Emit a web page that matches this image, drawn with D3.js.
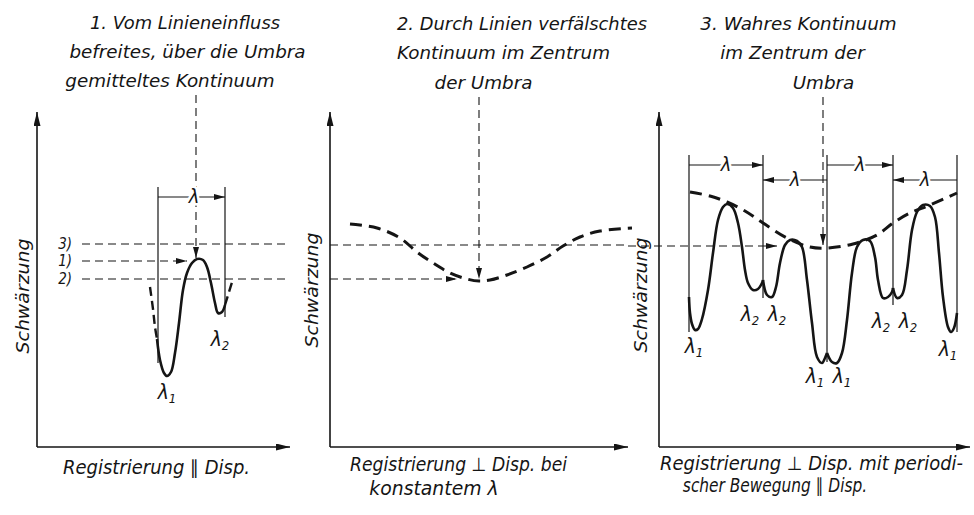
<!DOCTYPE html>
<html>
<head>
<meta charset="utf-8">
<script src="https://cdn.jsdelivr.net/npm/d3@7/dist/d3.min.js"></script>
<style>
  html, body { margin: 0; padding: 0; background: #fff; }
  text { font-family: "Liberation Sans Narrow", "DejaVu Sans Condensed", "Noto Sans", sans-serif; font-style: italic; fill: #151515; }
</style>
</head>
<body>
<svg id="fig" width="974" height="515"></svg>
<script>
// ---------- texts ----------
const titles = [
  ["1. Vom Linieneinfluss", "befreites, über die Umbra", "gemitteltes Kontinuum"],
  ["2. Durch Linien verfälschtes", "Kontinuum im Zentrum", "der Umbra"],
  ["3. Wahres Kontinuum", "im Zentrum der", "Umbra"]
];
const axisTitles = [
  ["Registrierung ∥ Disp."],
  ["Registrierung ⊥ Disp. bei", "konstantem λ"],
  ["Registrierung ⊥ Disp. mit periodi-", "scher Bewegung ∥ Disp."]
];
const yTitle = "Schwärzung";

// ---------- panel 1: registration parallel to dispersion ----------
// x = position along the record, y = Schwärzung (blackening)
const trace1 = [[120,108],[123,87],[127,74],[130,71],[134,75],[138,94],[142,124],[146,157],
  [150,174],[155,184],[160,188],[166,187],[170,180],[174,164],[178,144],[181,134],[185,135],[188,142]];
const trace1DashLeft = [[113,160],[116,138],[118,120],[120,108]];
const trace1DashRight = [[188,142],[192,155],[196,168]];
// reference levels 3), 1), 2)
const levelTags = ["3)", "1)", "2)"];
const levelValues = [203, 186, 168];
const centreMark1 = 159;          // x of the pointer to the averaged continuum
const window1 = [121, 188];       // wavelength window λ

// ---------- panel 2: perpendicular registration, constant λ ----------
const envelope2 = [[20,223],[47,219],[70,209],[87,195],[103,184],[120,174],[137,168],[149,166],
  [160,167],[177,172],[197,180],[217,190],[233,201],[250,210],[270,216],[302,219]];
const centreMark2 = 149;

// ---------- panel 3: perpendicular registration with periodic motion ----------
const trace3 = [
  [[30,150],[31,134],[33,123],[36,117],[39,118],[43,128],[49,157],[54,194],[59,227],[64,240],[68,243],
   [74,239],[79,224],[83,200],[86,177],[89,164],[94,157],[99,158],[103,164],[104,167]],
  [[104,167],[108,152],[113,150],[117,160],[121,184],[126,202],[131,207],[138,206],[143,200],[148,167],
   [153,124],[158,90],[163,84],[166,89],[168,94]],
  [[168,94],[173,85],[178,84],[183,94],[188,127],[193,174],[198,200],[204,207],[211,206],[216,190],
   [219,167],[224,149],[229,150],[233,155],[234,159]],
  [[234,159],[238,149],[243,152],[248,177],[253,217],[258,235],[264,242],[271,241],[276,230],[280,194],
   [284,150],[289,120],[292,115],[295,119],[298,134]]
];
const envelope3 = [[31,255],[51,251],[68,245],[86,236],[104,224],[128,209],[151,200],[168,199],
  [194,203],[218,212],[234,224],[251,234],[271,242],[298,254]];
const periods3 = [30, 104, 168, 234, 298];      // period boundaries (one λ apart)
const periodDepth3 = [115, 149, 85, 142, 115];  // how far each boundary line reaches down
const centreMark3 = 164;

// line identifications λ1 / λ2: [panel, x, y, subscript]
const lineTags = [
  [0,130,54,"1"], [0,183,107,"2"],
  [2,35,100,"1"], [2,91,132,"2"], [2,118,132,"2"], [2,156,70,"1"], [2,183,70,"1"],
  [2,222,125,"2"], [2,249,125,"2"], [2,289,97,"1"]
];

// ---------- layout ----------
const svg = d3.select("#fig");
const frames = [[37, 290], [330, 628], [659, 970]];
const y = d3.scaleLinear().domain([0, 335]).range([447, 112]);
const xs = frames.map(([a, b]) => d3.scaleLinear().domain([0, b - a]).range([a, b]));

const titleLayout = [
  [[90,190,29],[68,239,58],[63,214,87]],
  [[397,250,30],[395,217,59],[427,113,89]],
  [[700,197,30],[720,145,59],[787,73,89]]
];
const axisTitleLayout = [
  [[63,187,474]],
  [[350,217,471],[368,132,495]],
  [[660,303,470],[687,176,492]]
];
const yTitleLayout = [[29,296],[318,290],[647,295]];

const defs = svg.append("defs");
function marker(id, len, wid) {
  defs.append("marker").attr("id", id)
    .attr("viewBox", `0 0 ${len} ${wid}`).attr("refX", len).attr("refY", wid / 2)
    .attr("markerWidth", len).attr("markerHeight", wid)
    .attr("markerUnits", "userSpaceOnUse").attr("orient", "auto")
    .append("path").attr("d", `M0,0L${len},${wid / 2}L0,${wid}Z`).attr("fill", "#151515");
}
marker("axArrow", 14, 7);
marker("arrow", 11, 6);

const ink = "#151515";
const line = (x) => d3.line().x(d => x(d[0])).y(d => y(d[1])).curve(d3.curveCatmullRom.alpha(0.5));

// Place a lettering line in its slot [left, width]: one font size throughout,
// the width adjusted by at most ±10 % and the line kept centred in its slot.
function fitText(sel, size, left, width) {
  sel.attr("font-size", size);
  const w0 = sel.node().getComputedTextLength();
  const w = Math.max(0.9 * w0, Math.min(1.1 * w0, width));
  sel.attr("x", left + (width - w) / 2)
    .attr("textLength", w).attr("lengthAdjust", "spacingAndGlyphs");
  return sel;
}

function seg(x, x1, y1, x2, y2, style, arrow) {
  const l = svg.append("line")
    .attr("x1", x(x1)).attr("y1", y(y1)).attr("x2", x(x2)).attr("y2", y(y2))
    .attr("stroke", ink).attr("stroke-width", style === "guide" ? 1.1 : 1.2);
  if (style === "guide") l.attr("stroke-dasharray", "8,5");
  if (arrow) l.attr("marker-end", "url(#arrow)");
  return l;
}
function label(x, xv, yv, txt, size) {
  svg.append("text").attr("x", x(xv)).attr("y", y(yv) + size * 0.32)
    .attr("text-anchor", "middle").attr("font-size", size)
    .attr("stroke", "#fff").attr("stroke-width", 5).attr("paint-order", "stroke")
    .text(txt);
}

// axes with arrow tips
frames.forEach(([a, b], i) => {
  const x = xs[i];
  svg.append("line").attr("x1", x(0)).attr("y1", y(0)).attr("x2", x(0)).attr("y2", y(335))
    .attr("stroke", ink).attr("stroke-width", 1.6).attr("marker-end", "url(#axArrow)");
  svg.append("line").attr("x1", x(0)).attr("y1", y(0)).attr("x2", x(b - a)).attr("y2", y(0))
    .attr("stroke", ink).attr("stroke-width", 1.6).attr("marker-end", "url(#axArrow)");
});

// titles
titles.forEach((lines, i) => lines.forEach((t, j) => {
  const [lx, w, base] = titleLayout[i][j];
  fitText(svg.append("text").attr("y", base).text(t), 18.5, lx, w);
}));
axisTitles.forEach((lines, i) => lines.forEach((t, j) => {
  const [lx, w, base] = axisTitleLayout[i][j];
  fitText(svg.append("text").attr("y", base).text(t), 19, lx, w);
}));
yTitleLayout.forEach(([tx, ty]) => {
  svg.append("text").attr("transform", `translate(${tx},${ty}) rotate(-90)`)
    .attr("text-anchor", "middle").attr("font-size", 18)
    .attr("textLength", 115).attr("lengthAdjust", "spacingAndGlyphs").text(yTitle);
});

// ----- panel 1 -----
{
  const x = xs[0];
  levelValues.forEach((v, i) => {
    svg.append("text").attr("x", x(35)).attr("y", y(v) + 5).attr("text-anchor", "end")
      .attr("font-size", 15).text(levelTags[i]);
  });
  seg(x, 45, levelValues[0], 253, levelValues[0], "guide");
  seg(x, 45, levelValues[1], 150, levelValues[1], "guide", true);
  seg(x, 45, levelValues[2], 253, levelValues[2], "guide");
  seg(x, centreMark1, 352, centreMark1, 189, "guide", true);
  // wavelength window
  seg(x, window1[0], 260, window1[0], 84, "bracket");
  seg(x, window1[1], 260, window1[1], 130, "bracket");
  seg(x, window1[0], 250, window1[1], 250, "bracket", true);
  label(x, 157, 250, "λ", 20);
  svg.append("path").datum(trace1).attr("d", line(x)).attr("fill", "none")
    .attr("stroke", ink).attr("stroke-width", 2.6).attr("stroke-linejoin", "round");
  [trace1DashLeft, trace1DashRight].forEach(d => {
    svg.append("path").datum(d).attr("d", line(x)).attr("fill", "none")
      .attr("stroke", ink).attr("stroke-width", 2.4).attr("stroke-dasharray", "9,5");
  });
}

// ----- panel 2 -----
{
  const x = xs[1];
  seg(x, 0, 202, 298, 202, "guide");
  seg(x, 0, 168, 127, 168, "guide", true);
  seg(x, centreMark2, 350, centreMark2, 168, "guide", true);
  svg.append("path").datum(envelope2).attr("d", line(x)).attr("fill", "none")
    .attr("stroke", ink).attr("stroke-width", 3).attr("stroke-dasharray", "12,7");
}

// ----- panel 3 -----
{
  const x = xs[2];
  seg(x, -31, 201, 118, 201, "guide", true);
  seg(x, centreMark3, 350, centreMark3, 202, "guide", true);
  periods3.forEach((p, i) => seg(x, p, 292, p, periodDepth3[i], "bracket"));
  const spans = [[0, 1, 282], [2, 1, 267], [2, 3, 282], [4, 3, 267]];
  spans.forEach(([from, to, lev]) => {
    seg(x, periods3[from], lev, periods3[to], lev, "bracket", true);
    label(x, (periods3[from] + periods3[to]) / 2, lev, "λ", 20);
  });
  svg.append("path").datum(envelope3).attr("d", line(x)).attr("fill", "none")
    .attr("stroke", ink).attr("stroke-width", 3).attr("stroke-dasharray", "12,7");
  trace3.forEach(part => {
    svg.append("path").datum(part).attr("d", line(x)).attr("fill", "none")
      .attr("stroke", ink).attr("stroke-width", 2.6).attr("stroke-linejoin", "miter");
  });
}

// λ1 / λ2 identifications
lineTags.forEach(([p, xv, yv, sub]) => {
  const t = svg.append("text").attr("x", xs[p](xv)).attr("y", y(yv) + 6)
    .attr("text-anchor", "middle").attr("font-size", 21);
  t.append("tspan").text("λ");
  t.append("tspan").attr("font-size", 13).attr("dy", 4).text(sub);
});
</script>
</body>
</html>
